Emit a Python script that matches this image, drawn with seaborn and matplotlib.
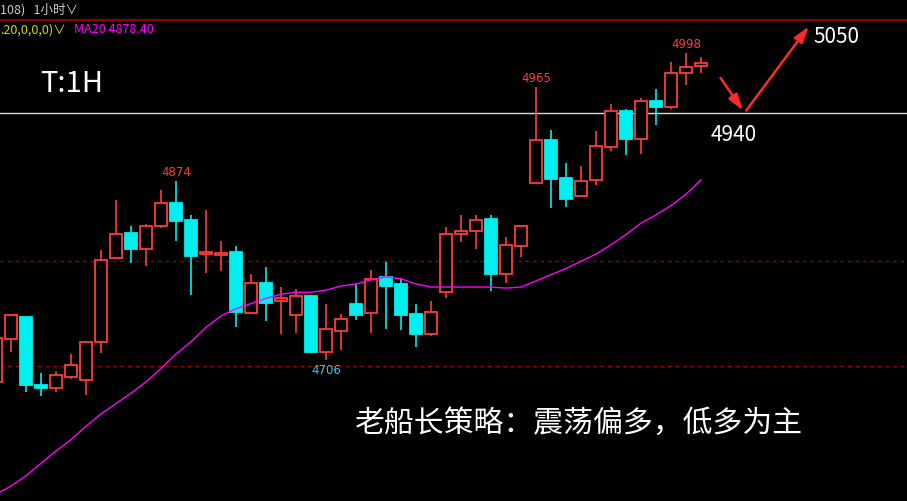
import matplotlib
matplotlib.use("Agg")
import matplotlib.pyplot as plt
import seaborn as sns
import numpy as np
import pandas as pd

opens  = [4679,4721,4742,4676,4673,4684,4681,4718,4799,4823,4808,4830,4853,4836,4803,4803,4805,4746,4775,4757,4744,4762,4708,4728,4755,4746,4781,4774,4745,4725,4766,4822,4825,4837,4784,4811,4872,4914,4877,4859,4875,4907,4942,4915,4951,4946,4979,4985]
highs  = [4724,4745,4742,4688,4690,4706,4719,4807,4855,4830,4832,4865,4874,4841,4846,4816,4811,4784,4790,4771,4769,4763,4755,4745,4774,4788,4795,4780,4755,4757,4829,4841,4841,4841,4820,4830,4965,4923,4891,4888,4922,4949,4944,4954,4963,4989,4998,4994]
lows   = [4677,4708,4669,4665,4669,4682,4666,4707,4799,4794,4791,4828,4816,4763,4785,4787,4732,4746,4738,4725,4726,4707,4700,4710,4739,4726,4730,4729,4713,4724,4760,4815,4808,4767,4775,4800,4872,4848,4849,4859,4870,4903,4899,4900,4928,4944,4967,4979]
closes = [4722,4744,4676,4673,4686,4695,4718,4797,4822,4808,4830,4853,4835,4801,4805,4804,4747,4775,4756,4760,4762,4708,4730,4740,4744,4779,4772,4744,4725,4747,4822,4825,4836,4784,4812,4830,4914,4876,4856,4874,4908,4942,4915,4951,4946,4979,4984,4988]
ma20   = [4570,4578,4588,4600,4612,4623,4636,4648,4658,4668,4679,4692,4706,4718,4732,4743,4750,4755,4760,4764,4766,4766,4768,4772,4774,4778,4781,4779,4774,4771,4771,4771,4771,4771,4770,4771,4777,4783,4789,4796,4803,4812,4822,4833,4841,4850,4861,4875]
resistance = 4940
dashed_levels = [4796, 4694]
peak_labels = [(12, "4874", "high"), (36, "4965", "high"), (46, "4998", "high"), (22, "4706", "low")]
target_path = [(48.2, 4976), (49.9, 4940), (54.3, 5026)]

RED = "#FF3B3B"; CYAN = "#00F0F0"
sns.set_theme(style="dark")
plt.rcParams['font.family'] = ['Noto Sans CJK SC', 'DejaVu Sans']

fig = plt.figure(figsize=(9.07, 5.02), dpi=100, facecolor="black")
ax = fig.add_axes([0, 0, 1, 1])
ax.set_facecolor("black")
idx = np.arange(len(opens))
df = pd.DataFrame(dict(i=idx, o=opens, h=highs, l=lows, c=closes, ma=ma20))

for lv in dashed_levels:
    ax.axhline(lv, color="#A00000", lw=0.9, ls=(0, (3, 3)))
ax.axhline(resistance, color="#DDDDDD", lw=1.0)

for r in df.itertuples():
    up = r.c >= r.o
    col = RED if up else CYAN
    bot, top = min(r.o, r.c), max(r.o, r.c)
    ax.vlines(r.i, r.l, bot, color=col, lw=1.2, zorder=2)
    ax.vlines(r.i, top, r.h, color=col, lw=1.2, zorder=2)
    hgt = max(top - bot, 1.2)
    ax.bar(r.i, hgt, bottom=bot if top - bot >= 1.2 else bot - 0.6, width=0.82,
           facecolor="black" if up else CYAN, edgecolor=col, lw=1.3, zorder=3)

sns.lineplot(data=df, x="i", y="ma", ax=ax, color="#FF00FF", lw=1.0, zorder=4)

for i, t, kind in peak_labels:
    if kind == "high":
        ax.text(i, highs[i] + 3, t, color=RED, fontsize=8.5, ha="center", va="bottom", family="DejaVu Sans")
    else:
        ax.text(i, lows[i] - 3, t, color="#33CCEE", fontsize=8.5, ha="center", va="top", family="DejaVu Sans")

(x0, y0), (x1, y1), (x2, y2) = target_path
ax.annotate("", xy=(x1, y1), xytext=(x0, y0),
            arrowprops=dict(arrowstyle="-|>,head_length=0.8,head_width=0.25", color="#FF2A2A", lw=1.8))
ax.annotate("", xy=(x2, y2), xytext=(x1, y1),
            arrowprops=dict(arrowstyle="-|>,head_length=0.8,head_width=0.25", color="#FF2A2A", lw=1.8))

ax.set_xlim(4/15, (907 + 4) / 15)
ax.set_ylim(4563.5, 5050.4)
ax.axis("off")

def ftxt(x, y, s, **kw):
    fig.text(x / 907, 1 - y / 502, s, **kw)

ftxt(40, 84, "T:1H", color="white", fontsize=21, va="center")
ftxt(711, 135, "4940", color="white", fontsize=15, va="center")
ftxt(813, 37, "5050", color="white", fontsize=15, va="center")
ftxt(355, 423, "老船长策略：震荡偏多，低多为主", color="white", fontsize=21.5, va="center")
ftxt(0, 10, "108)   1小时∨", color="#CCCCCC", fontsize=9, va="center")
ftxt(0, 30, ".20,0,0,0)∨", color="#D8D800", fontsize=9, va="center")
ftxt(74, 30, "MA20 4878.40", color="#FF00FF", fontsize=9, va="center")
fig.add_artist(plt.Line2D([0, 1], [1 - 21 / 502] * 2, color="#B00000", lw=1.2))

fig.savefig("out.png", dpi=100, facecolor="black")
